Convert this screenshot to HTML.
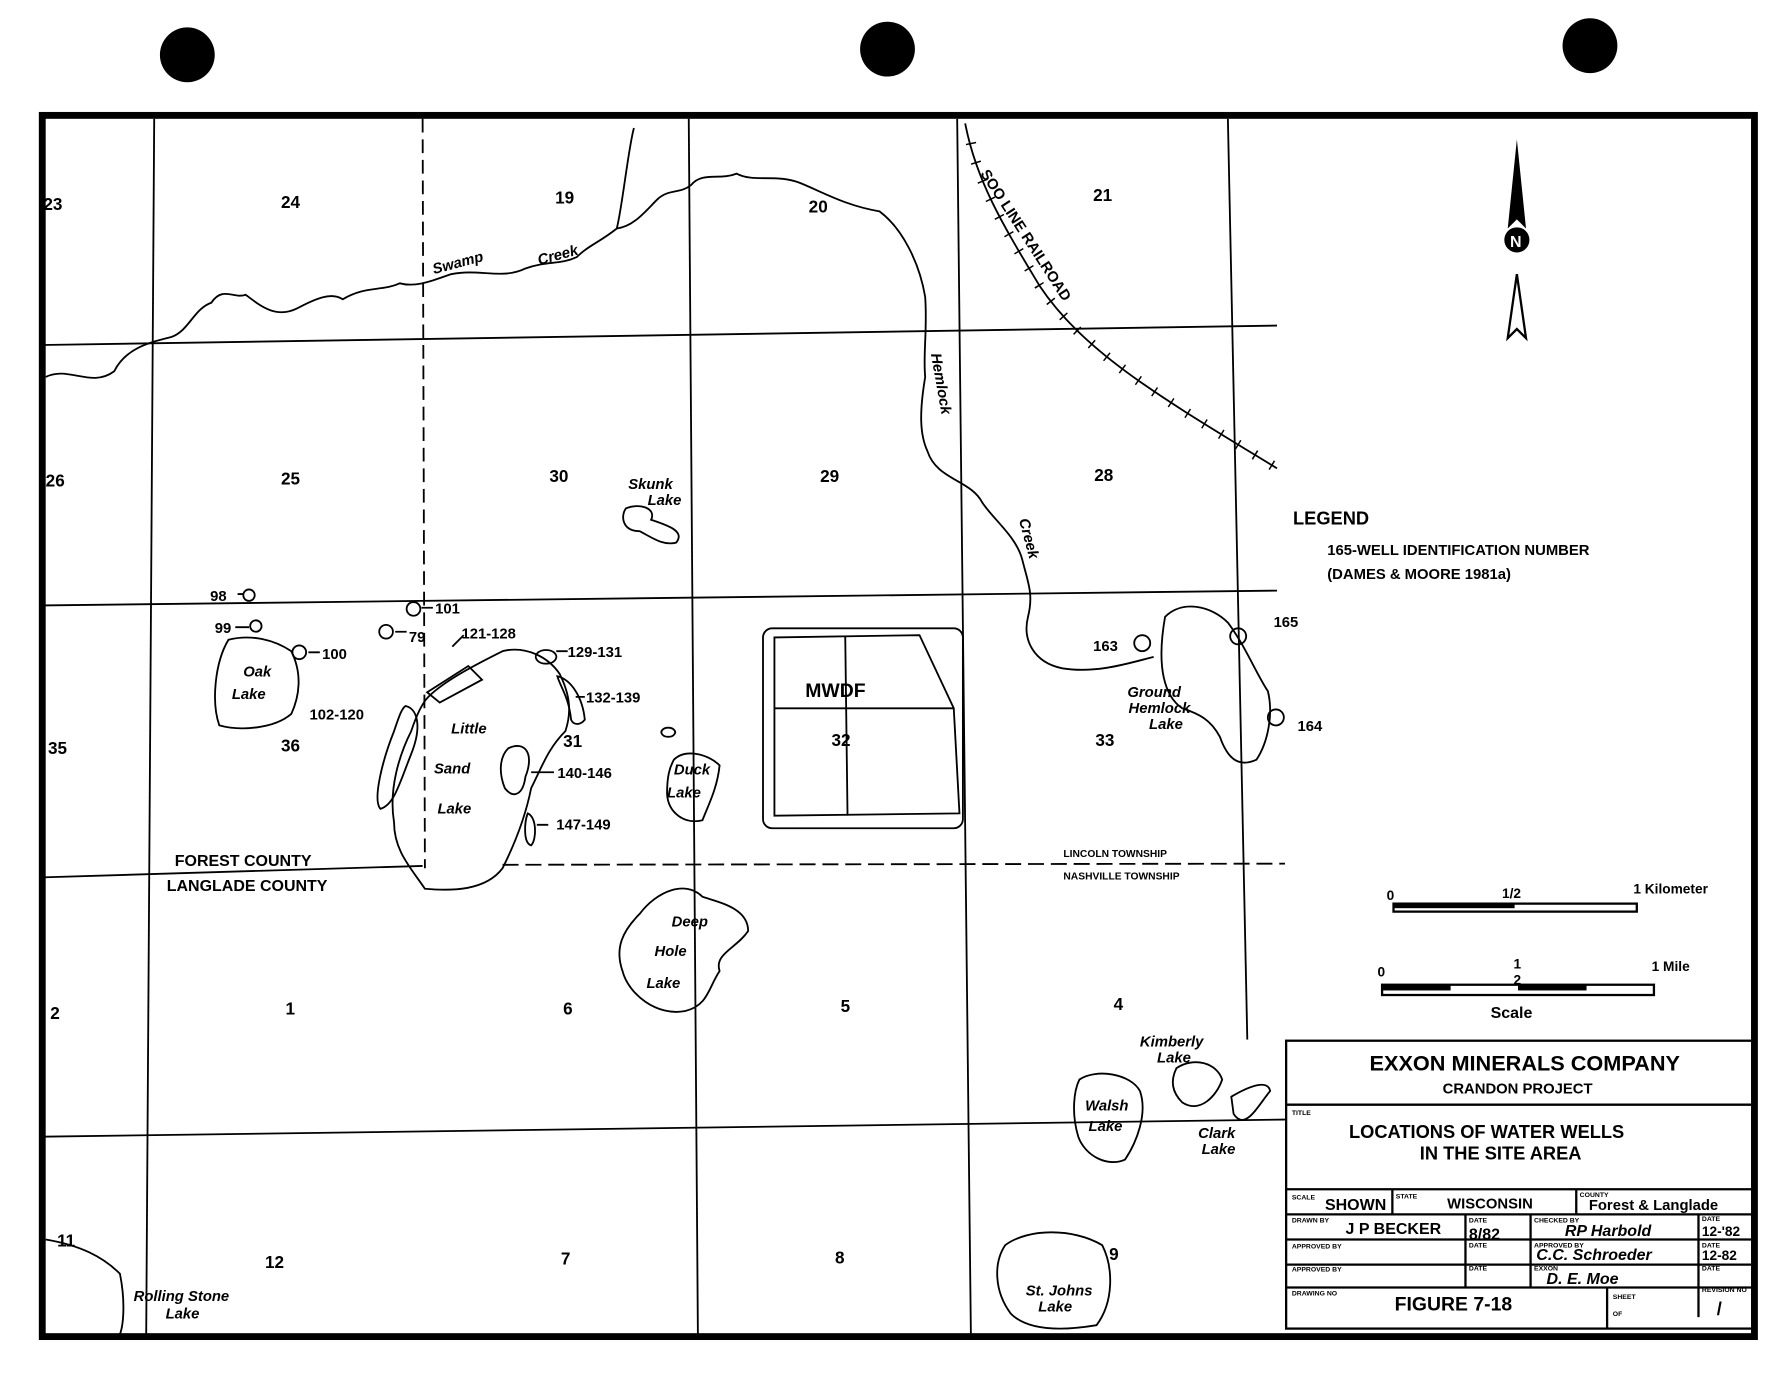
<!DOCTYPE html>
<html><head><meta charset="utf-8"><style>
html,body{margin:0;padding:0;background:#fff;}
svg{display:block}
text{font-family:"Liberation Sans",sans-serif;font-weight:bold;fill:#000}
</style></head><body>
<svg width="1791" height="1380" viewBox="0 0 1568 1208" preserveAspectRatio="none" xmlns="http://www.w3.org/2000/svg">
<rect width="1568" height="1208" fill="#fff"/>
<circle cx="164" cy="48" r="24"/><circle cx="777" cy="43" r="24"/><circle cx="1392" cy="40" r="24"/>
<rect x="37" y="101" width="1499" height="1069" fill="none" stroke="#000" stroke-width="6"/>
<g stroke="#000" stroke-width="1.6" fill="none">
<path d="M135 104 L128 1168"/>
<path d="M370 104 L372 760" stroke-dasharray="12 6"/>
<path d="M603 104 L611 1168"/>
<path d="M838 104 L850 1168"/>
<path d="M1075 104 L1092 910"/>
<path d="M37 302 L1118 285"/>
<path d="M37 530 L1118 517"/>
<path d="M37 768 L370 758"/>
<path d="M440 757 L1125 756" stroke-dasharray="14 6"/>
<path d="M37 995 L1125 980"/>
<path d="M40 330 C60 320 80 340 100 325 C110 305 130 300 150 295 C165 290 170 270 185 265 C195 250 205 262 215 258 C225 265 240 280 260 270 C275 262 290 255 300 262 C320 250 335 255 350 248 C365 252 380 245 395 240 C420 235 440 245 460 235 C480 228 490 232 505 225 C515 215 525 212 540 200 C545 180 550 130 555 112"/>
<path d="M540 200 C555 198 565 185 575 175 C585 165 595 170 605 162 C615 150 630 158 645 152 C660 160 680 152 700 160 C720 168 740 180 770 185 C790 200 805 230 810 260 C812 290 808 310 810 330 C805 360 805 380 812 395 C820 420 850 420 860 440 C870 455 890 470 895 490 C900 510 905 520 900 540 C895 560 905 580 930 585 C960 590 990 580 1010 575"/>
<path d="M845 108 C855 160 880 200 910 250 C950 310 1020 350 1118 410"/>
<path d="M850 125 C858 165 880 200 910 250 C950 310 1020 350 1118 410" stroke-width="9" stroke-dasharray="1.3 16"/>
<path d="M548 445 C560 440 575 445 570 455 C585 460 600 465 592 475 C580 478 570 470 560 465 C545 465 543 452 548 445Z"/>
<path d="M200 560 C220 555 240 560 255 570 C265 590 262 610 255 625 C240 638 210 640 192 635 C185 615 188 580 200 560Z"/>
<path d="M375 610 C390 595 420 580 440 570 C460 565 480 575 490 590 C500 610 500 625 495 640 C480 655 475 670 465 690 C460 715 450 740 440 760 C425 780 395 780 372 778 C360 760 345 745 345 720 C340 690 350 660 360 640 C365 625 370 615 375 610Z"/>
<path d="M590 665 C600 655 620 660 630 670 C628 690 620 705 615 718 C600 722 585 712 584 695 C584 680 586 672 590 665Z"/>
<path d="M560 800 C575 780 600 770 615 785 C630 790 655 795 655 815 C645 830 625 835 630 850 C620 865 620 880 600 885 C575 890 550 870 545 850 C538 830 545 815 560 800Z"/>
<path d="M1020 540 C1035 525 1060 530 1075 545 C1090 565 1100 590 1110 605 C1115 625 1110 650 1100 665 C1085 672 1075 665 1068 645 C1060 630 1050 625 1035 620 C1020 610 1012 585 1020 540Z"/>
<path d="M585 637 a6 4 0 1 0 0.1 0Z"/>
<path d="M945 945 C960 935 990 940 998 955 C1005 975 995 1000 985 1015 C970 1022 950 1012 944 995 C938 975 940 955 945 945Z"/>
<path d="M1030 935 C1045 925 1065 930 1070 945 C1065 960 1050 975 1035 965 C1025 955 1025 945 1030 935Z"/>
<path d="M1078 960 C1095 950 1110 945 1112 955 C1100 970 1090 990 1080 975Z"/>
<path d="M880 1090 C900 1075 940 1075 965 1090 C975 1110 975 1140 960 1160 C930 1165 900 1165 885 1150 C870 1130 870 1105 880 1090Z"/>
<path d="M40 1085 C70 1090 90 1100 105 1115 C110 1140 108 1160 105 1168"/>
<rect x="668" y="550" width="175" height="175" rx="8"/>
<path d="M678 558 L805 556 L835 620 L840 712 L678 714Z"/>
<path d="M740 557 L742 714 M678 620 L835 620"/>
<circle cx="218" cy="521" r="5"/><circle cx="224" cy="548" r="5"/><circle cx="262" cy="571" r="6"/>
<circle cx="362" cy="533" r="6"/><circle cx="338" cy="553" r="6"/>
<path d="M374 606 L410 583 L422 595 L385 615Z"/>
<path d="M478 569 a9 6 0 1 0 0.1 0Z"/>
<path d="M488 592 C500 595 510 610 512 630 C508 635 502 635 500 630 C498 610 490 600 488 592Z"/>
<path d="M445 655 C460 648 468 660 460 680 C458 695 450 700 442 690 C436 675 438 662 445 655Z"/>
<path d="M462 712 C470 715 470 735 465 740 C458 738 459 720 462 712Z"/>
<path d="M355 618 C365 620 370 635 360 660 C350 685 345 705 333 708 C326 700 335 665 345 640 C350 625 352 620 355 618Z"/>
<circle cx="1000" cy="563" r="7"/><circle cx="1084" cy="557" r="7"/><circle cx="1117" cy="628" r="7"/>
<path d="M208 520h5M206 549h12M270 571h10M346 553h10M369 532h10M406 556 l-10 10M487 570h10M504 610h8M465 676h20M470 722h10"/>
</g>
<path d="M1328 122 L1320 200 L1328 192 L1336 200Z" fill="#000"/>
<path d="M1328 240 L1320 296 L1328 288 L1336 296Z" fill="none" stroke="#000" stroke-width="2"/>
<circle cx="1328" cy="210" r="11" fill="#000"/>
<text x="1322" y="216" font-size="14" style="fill:#fff">N</text>
<g font-size="15">
<text x="38" y="184">23</text><text x="246" y="182">24</text><text x="486" y="178">19</text><text x="708" y="186">20</text><text x="957" y="176">21</text>
<text x="40" y="426">26</text><text x="246" y="424">25</text><text x="481" y="422">30</text><text x="718" y="422">29</text><text x="958" y="421">28</text>
<text x="42" y="660">35</text><text x="246" y="658">36</text><text x="493" y="654">31</text><text x="728" y="653">32</text><text x="959" y="653">33</text>
<text x="44" y="892">2</text><text x="250" y="888">1</text><text x="493" y="888">6</text><text x="736" y="886">5</text><text x="975" y="884">4</text>
<text x="50" y="1091">11</text><text x="232" y="1110">12</text><text x="491" y="1107">7</text><text x="731" y="1106">8</text><text x="971" y="1103">9</text>
</g>
<g font-size="13" font-style="italic">
<text x="380" y="240" transform="rotate(-15 380 240)">Swamp</text>
<text x="472" y="232" transform="rotate(-15 472 232)">Creek</text>
<text x="858" y="152" transform="rotate(57 858 152)" font-style="normal">SOO LINE RAILROAD</text>
<text x="815" y="310" transform="rotate(80 815 310)">Hemlock</text>
<text x="892" y="455" transform="rotate(75 892 455)">Creek</text>
<text x="550" y="428">Skunk</text><text x="567" y="442">Lake</text>
<text x="213" y="592">Oak</text><text x="203" y="612">Lake</text>
<text x="395" y="642">Little</text><text x="380" y="677">Sand</text><text x="383" y="712">Lake</text>
<text x="590" y="678">Duck</text><text x="584" y="698">Lake</text>
<text x="588" y="811">Deep</text><text x="573" y="837">Hole</text><text x="566" y="865">Lake</text>
<text x="987" y="610">Ground</text><text x="988" y="624">Hemlock</text><text x="1006" y="638">Lake</text>
<text x="998" y="916">Kimberly</text><text x="1013" y="930">Lake</text>
<text x="950" y="972">Walsh</text><text x="953" y="990">Lake</text>
<text x="1049" y="996">Clark</text><text x="1052" y="1010">Lake</text>
<text x="898" y="1134">St. Johns</text><text x="909" y="1148">Lake</text>
<text x="117" y="1139">Rolling Stone</text><text x="145" y="1154">Lake</text>
</g>
<g font-size="13" font-weight="normal">
<text x="184" y="526">98</text><text x="188" y="554">99</text><text x="282" y="577">100</text>
<text x="358" y="562">79</text><text x="381" y="537">101</text><text x="404" y="559">121-128</text>
<text x="497" y="575">129-131</text><text x="513" y="615">132-139</text><text x="271" y="630">102-120</text>
<text x="488" y="681">140-146</text><text x="487" y="726">147-149</text>
<text x="957" y="570">163</text><text x="1115" y="549">165</text><text x="1136" y="640">164</text>
</g>
<text x="705" y="610" font-size="17">MWDF</text>
<g font-size="14" font-weight="normal">
<text x="153" y="758">FOREST COUNTY</text><text x="146" y="780">LANGLADE COUNTY</text>
</g>
<text x="931" y="750" font-size="9">LINCOLN TOWNSHIP</text>
<text x="931" y="770" font-size="9">NASHVILLE TOWNSHIP</text>
<text x="1132" y="459" font-size="16">LEGEND</text>
<text x="1162" y="486" font-size="13" font-weight="normal">165-WELL IDENTIFICATION NUMBER</text>
<text x="1162" y="507" font-size="13" font-weight="normal">(DAMES &amp; MOORE 1981a)</text>
<g font-size="12">
<text x="1214" y="788">0</text><text x="1315" y="786">1/2</text><text x="1430" y="782">1 Kilometer</text>
<text x="1206" y="855">0</text><text x="1325" y="848">1</text><text x="1325" y="862">2</text><text x="1446" y="850">1 Mile</text>
<text x="1305" y="891" font-size="14">Scale</text>
</g>
<rect x="1220" y="791" width="213" height="7" fill="none" stroke="#000" stroke-width="2"/>
<rect x="1220" y="791" width="106" height="4" fill="#000"/>
<rect x="1210" y="862" width="238" height="9" fill="none" stroke="#000" stroke-width="2"/>
<rect x="1210" y="862" width="60" height="5" fill="#000"/><rect x="1329" y="862" width="60" height="5" fill="#000"/>
<g stroke="#000" fill="none" stroke-width="2">
<rect x="1126" y="911" width="408" height="252"/>
<path d="M1126 967h408M1126 1041h408M1126 1063h408M1126 1085h408M1126 1107h408M1126 1127h408"/>
<path d="M1219 1041v22M1380 1041v22M1283 1063v64M1340 1063v64M1487 1063v90M1407 1127v36"/>
</g>
<text x="1199" y="937" font-size="19">EXXON MINERALS COMPANY</text>
<text x="1263" y="957" font-size="13" font-weight="normal">CRANDON PROJECT</text>
<text x="1131" y="976" font-size="6">TITLE</text>
<text x="1181" y="996" font-size="16">LOCATIONS OF WATER WELLS</text>
<text x="1243" y="1015" font-size="16">IN THE SITE AREA</text>
<g font-size="6"><text x="1131" y="1050">SCALE</text><text x="1222" y="1049">STATE</text><text x="1383" y="1048">COUNTY</text>
<text x="1131" y="1070">DRAWN BY</text><text x="1286" y="1070">DATE</text><text x="1343" y="1070">CHECKED BY</text><text x="1490" y="1069">DATE</text>
<text x="1131" y="1093">APPROVED BY</text><text x="1286" y="1092">DATE</text><text x="1343" y="1092">APPROVED BY</text><text x="1490" y="1092">DATE</text>
<text x="1131" y="1113">APPROVED BY</text><text x="1286" y="1112">DATE</text><text x="1343" y="1112">EXXON</text><text x="1490" y="1112">DATE</text>
<text x="1131" y="1134">DRAWING NO</text><text x="1412" y="1137">SHEET</text><text x="1412" y="1152">OF</text><text x="1490" y="1131">REVISION NO</text></g>
<g font-weight="normal"><text x="1160" y="1059" font-size="14">SHOWN</text><text x="1267" y="1058" font-size="13">WISCONSIN</text><text x="1391" y="1059" font-size="13">Forest &amp; Langlade</text>
<text x="1178" y="1080" font-size="14">J P BECKER</text><text x="1286" y="1085" font-size="14">8/82</text>
<text x="1370" y="1082" font-size="14" font-style="italic">RP Harbold</text><text x="1490" y="1082" font-size="12">12-'82</text>
<text x="1345" y="1103" font-size="14" font-style="italic">C.C. Schroeder</text><text x="1490" y="1103" font-size="12">12-82</text>
<text x="1354" y="1124" font-size="14" font-style="italic">D. E. Moe</text></g>
<text x="1221" y="1147" font-size="17">FIGURE 7-18</text>
<text x="1503" y="1151" font-size="16">/</text>
</svg>
</body></html>
